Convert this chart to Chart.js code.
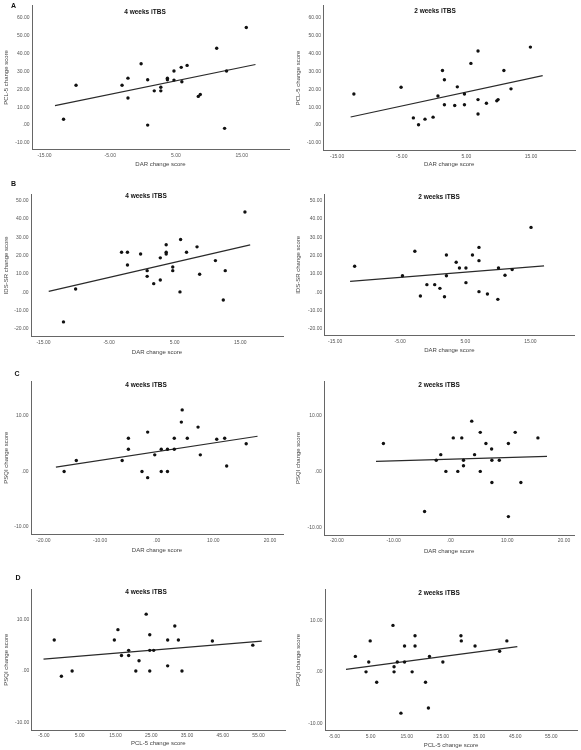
<!DOCTYPE html>
<html>
<head>
<meta charset="utf-8">
<script src="https://cdn.jsdelivr.net/npm/chart.js@4"></script>
<style>
html,body{margin:0;padding:0;background:#fff;}
#fig{position:relative;width:581px;height:750px;overflow:hidden;font-family:'Liberation Sans',Arial,sans-serif;}
.panel{position:absolute;}
.letter{position:absolute;font-weight:bold;font-size:7px;line-height:7px;color:#111;z-index:2;}
</style>
</head>
<body>
<div id="fig">
  <div class="letter" style="left:11px;top:1.5px">A</div>
  <div class="letter" style="left:11px;top:179.5px">B</div>
  <div class="letter" style="left:14.5px;top:369.5px">C</div>
  <div class="letter" style="left:15.5px;top:573.5px">D</div>
</div>
<script>
// Data (x = change score on the x axis, y = on the y axis)
// A: DAR vs PCL-5
const a4x = [-12.1,-10.2,-3.2,-2.3,-2.3,-0.3,0.7,0.7,1.7,2.7,2.7,3.7,3.7,4.7,4.7,5.8,5.9,6.7,8.4,8.7,11.2,12.4,12.7,15.7];
const a4y = [3.3,22.2,22.2,26.2,15.1,34.2,25.3,0,19.1,21.1,19.1,26.2,25.3,30.2,25.1,32.2,24.2,33.3,16,17.1,42.9,-1.8,30.2,54.4];
const a4fit = [[-13.4,17.1],[10.9,33.8]];
const a2x = [-12.4,-5.1,-3.2,-2.4,-1.4,-0.15,0.6,1.3,1.6,1.6,3.2,3.6,4.7,4.7,5.7,6.8,6.8,6.8,8.1,9.7,9.9,10.8,11.9,14.9];
const a2y = [17.3,21.1,4.0,0.2,3.3,4.4,16.2,30.4,25.3,11.3,10.9,21.3,17.3,11.3,34.4,41.3,14.2,6.2,12.2,13.5,14.2,30.4,20.2,43.5];
const a2fit = [[-12.9,16.8],[4.5,27.6]];

// B: DAR vs IDS-SR
const b4x = [-11.95,-10.1,-3.1,-2.2,-2.2,-0.2,0.8,0.8,1.8,2.8,2.8,3.7,3.7,3.7,4.7,4.7,5.9,5.8,6.8,8.4,8.8,11.2,12.4,12.7,15.7];
const b4y = [-16.2,1.8,21.9,21.9,14.9,20.9,11.8,8.7,4.7,18.8,6.7,26,21.9,20.9,13.8,11.8,28.8,0.2,21.9,24.8,9.8,17.3,-4.2,11.8,43.9];
const b4fit = [[-14.2,16.5],[0.5,25.9]];
const b2x = [-12.0,-4.65,-2.75,-1.9,-0.9,0.3,1.1,1.8,2.1,2.1,3.6,4.1,5.1,5.1,6.1,7.1,7.1,7.1,8.4,10.0,10.1,11.1,12.2,15.1];
const b2y = [14.2,9.1,22.4,-2.0,4.2,4.2,2.2,-2.4,20.4,9.1,16.4,13.3,13.3,5.3,20.4,24.5,17.3,0.4,-0.9,-3.8,13.3,9.3,12.4,35.4];
const b2fit = [[-12.7,17.1],[6.0,14.4]];

// C: DAR vs PSQI
const c4x = [-16.35,-14.2,-6.1,-5.0,-5.0,-2.6,-1.6,-1.6,-0.35,0.8,0.8,1.9,1.9,3.1,3.1,4.35,4.5,5.4,7.3,7.7,10.6,12.0,12.35,15.8];
const c4y = [0,2,2,6,4,0,7.1,-1.1,3,4,0,4,0,6,4,8.9,11.1,6,8,3,5.8,6,1,5];
const c4fit = [[-17.8,17.8],[0.8,6.35]];
const c2x = [-11.8,-4.55,-2.5,-1.7,-0.8,0.5,1.3,2.0,2.3,2.3,3.75,4.25,5.25,5.25,6.25,7.25,7.3,7.3,8.6,10.2,10.2,11.4,12.4,15.4];
const c2y = [5,-7.2,2,3,0,6,0,6,2,1,9,3,7,0,5,4,2,-2,2,5,-8.1,7,-2,6];
const c2fit = [[-13.1,17.0],[1.8,2.7]];

// D: PCL-5 vs PSQI
const d4x = [-2.1,-0.1,2.9,14.7,15.7,16.7,18.7,18.7,20.7,21.6,23.6,24.6,24.6,24.6,25.7,29.6,29.6,31.6,32.6,33.6,42.1,53.4];
const d4y = [6,-1,0,6,8,3,4,3,0,2,11,7,4,0,4,6,1,8.7,6,0,5.8,5];
const d4fit = [[-5.1,55.9],[2.3,5.8]];
const d2x = [0.8,3.75,4.5,4.9,6.7,11.2,11.5,11.5,12.4,13.4,14.4,14.4,16.5,17.3,17.3,20.2,21.0,21.3,25.0,30.0,30.1,33.9,40.7,42.7];
const d2y = [3,0,1.9,6,-2,9,1,0,1.9,-8,5,1.9,0,7,5,-2,-7,3,1.9,7,6,5,4,6];
const d2fit = [[-1.8,45.6],[0.5,4.9]];

// Tick labels
const yTicksA = [-10,0,10,20,30,40,50,60];
const yTicksB = [-20,-10,0,10,20,30,40,50];
const yTicksCD = [-10,0,10];
const xTicksAB = [-15,-5,5,15];
const xTicksC = [-20,-10,0,10,20];
const xTicksD = [-5,5,15,25,35,45,55];

const $ = (sel, ctx=document) => ctx.querySelector(sel);
const FONT = "'Liberation Sans', Arial, sans-serif";
const fmt = v => v === 0 ? '.00' : v.toFixed(2);

// draws the "n weeks iTBS" heading inside the plot
const headingPlugin = {
  id: 'heading',
  afterDraw(chart, args, opts){
    const c = chart.ctx;
    c.save();
    c.font = 'bold 6.5px ' + FONT;
    c.fillStyle = '#111';
    c.textAlign = 'center';
    c.textBaseline = 'middle';
    c.fillText(opts.text, opts.x, opts.y);
    c.restore();
  }
};

function drawPanel(g, p){
  const wrap = document.createElement('div');
  wrap.className = 'panel';
  wrap.style.left = g.left + 'px';
  wrap.style.top = g.top + 'px';
  const cv = document.createElement('canvas');
  cv.width = g.w; cv.height = g.h;
  wrap.appendChild(cv);
  $('#fig').appendChild(wrap);

  const pb = g.top + g.h - g.xty - 3.6;
  new Chart(cv.getContext('2d'), {
    type: 'scatter',
    data: {
      datasets: [
        {
          data: p.xs.map((x,i)=>({x, y:p.ys[i]})),
          pointRadius: 1.7, pointBackgroundColor: '#111', pointBorderWidth: 0,
        },
        {
          data: p.fit[0].map((x,i)=>({x, y:p.fit[1][i]})),
          showLine: true, pointRadius: 0, borderColor: '#2a2a2a', borderWidth: 1.2,
        }
      ]
    },
    options: {
      responsive: false, animation: false, devicePixelRatio: 1,
      layout: {autoPadding: false, padding: {left:0, top:g.y0-g.top, right:g.left+g.w-g.x1, bottom:0}},
      plugins: {
        legend: {display:false}, tooltip: {enabled:false},
        heading: {text:p.title, x:g.tx-g.left, y:g.ty-g.top}
      },
      scales: {
        x: {
          type: 'linear', min: p.xr[0], max: p.xr[1],
          afterFit: s => { s.height = g.top + g.h - g.y1; },
          afterBuildTicks: s => { s.ticks = p.xt.map(v=>({value:v})); },
          ticks: {autoSkip:false, maxRotation:0, padding:3, color:'#555', font:{family:FONT, size:5}, callback: fmt},
          grid: {display:false, drawTicks:false},
          border: {color:'#666', width:1},
          title: {display:true, text:p.xTitle, color:'#444', font:{family:FONT, size:6}, padding:{top:0, bottom:pb}}
        },
        y: {
          type: 'linear', min: p.yr[0], max: p.yr[1],
          afterFit: s => { s.width = g.x0 - g.left; },
          afterBuildTicks: s => { s.ticks = p.yt.map(v=>({value:v})); },
          ticks: {autoSkip:false, padding:2.5, color:'#555', font:{family:FONT, size:5}, callback: fmt},
          grid: {display:false, drawTicks:false},
          border: {color:'#666', width:1},
          title: {display:true, text:p.yTitle, color:'#444', font:{family:FONT, size:6}, padding:{top:g.ytp, bottom:0}}
        }
      }
    },
    plugins: [headingPlugin]
  });
}

function init(){
  const W4 = '4 weeks iTBS', W2 = '2 weeks iTBS';
  const DAR = 'DAR change score', PCL = 'PCL-5 change score', IDS = 'IDS-SR change score', PSQI = 'PSQI change score';

  drawPanel({left:0, top:0, w:290, h:172, x0:32, x1:289, y0:2, y1:149.5, tx:145, ty:12, xty:164, ytp:3},
    {xs:a4x, ys:a4y, fit:a4fit, xr:[-16.9,22.2], yr:[-13.6,66.7], xt:xTicksAB, yt:yTicksA, xTitle:DAR, yTitle:PCL, title:W4});
  drawPanel({left:290, top:0, w:291, h:172, x0:323.5, x1:575, y0:2, y1:150.5, tx:435, ty:11, xty:164, ytp:4.7},
    {xs:a2x, ys:a2y, fit:a2fit, xr:[-17.1,21.8], yr:[-14.2,66.7], xt:xTicksAB, yt:yTicksA, xTitle:DAR, yTitle:PCL, title:W2});

  drawPanel({left:0, top:178, w:290, h:181, x0:31, x1:283, y0:194, y1:336.7, tx:146, ty:196, xty:352.3, ytp:3},
    {xs:b4x, ys:b4y, fit:b4fit, xr:[-16.9,21.5], yr:[-24.3,53.7], xt:xTicksAB, yt:yTicksB, xTitle:DAR, yTitle:IDS, title:W4});
  drawPanel({left:290, top:178, w:291, h:181, x0:324.7, x1:574, y0:194, y1:335.7, tx:439, ty:197, xty:350.7, ytp:4.7},
    {xs:b2x, ys:b2y, fit:b2fit, xr:[-16.6,21.7], yr:[-23.6,53.6], xt:xTicksAB, yt:yTicksB, xTitle:DAR, yTitle:IDS, title:W2});

  drawPanel({left:0, top:370, w:290, h:186, x0:31, x1:283, y0:381, y1:534.3, tx:146, ty:385, xty:550, ytp:3},
    {xs:c4x, ys:c4y, fit:c4fit, xr:[-22.2,22.3], yr:[-11.3,16.3], xt:xTicksC, yt:yTicksCD, xTitle:DAR, yTitle:PSQI, title:W4});
  drawPanel({left:290, top:370, w:291, h:186, x0:324.3, x1:574, y0:381, y1:535, tx:439, ty:385, xty:551, ytp:4.7},
    {xs:c2x, ys:c2y, fit:c2fit, xr:[-22.2,21.75], yr:[-11.4,16.2], xt:xTicksC, yt:yTicksCD, xTitle:DAR, yTitle:PSQI, title:W2});

  drawPanel({left:0, top:572, w:290, h:178, x0:31.7, x1:285, y0:589.3, y1:730, tx:146, ty:592, xty:743.3, ytp:3},
    {xs:d4x, ys:d4y, fit:d4fit, xr:[-8.4,62.4], yr:[-11.4,15.8], xt:xTicksD, yt:yTicksCD, xTitle:PCL, yTitle:PSQI, title:W4});
  drawPanel({left:290, top:572, w:291, h:178, x0:325, x1:577, y0:589.3, y1:730.7, tx:439, ty:593, xty:745, ytp:4.7},
    {xs:d2x, ys:d2y, fit:d2fit, xr:[-7.6,62.1], yr:[-11.4,16.0], xt:xTicksD, yt:yTicksCD, xTitle:PCL, yTitle:PSQI, title:W2});
}

document.addEventListener('DOMContentLoaded', init);
</script>
</body>
</html>
